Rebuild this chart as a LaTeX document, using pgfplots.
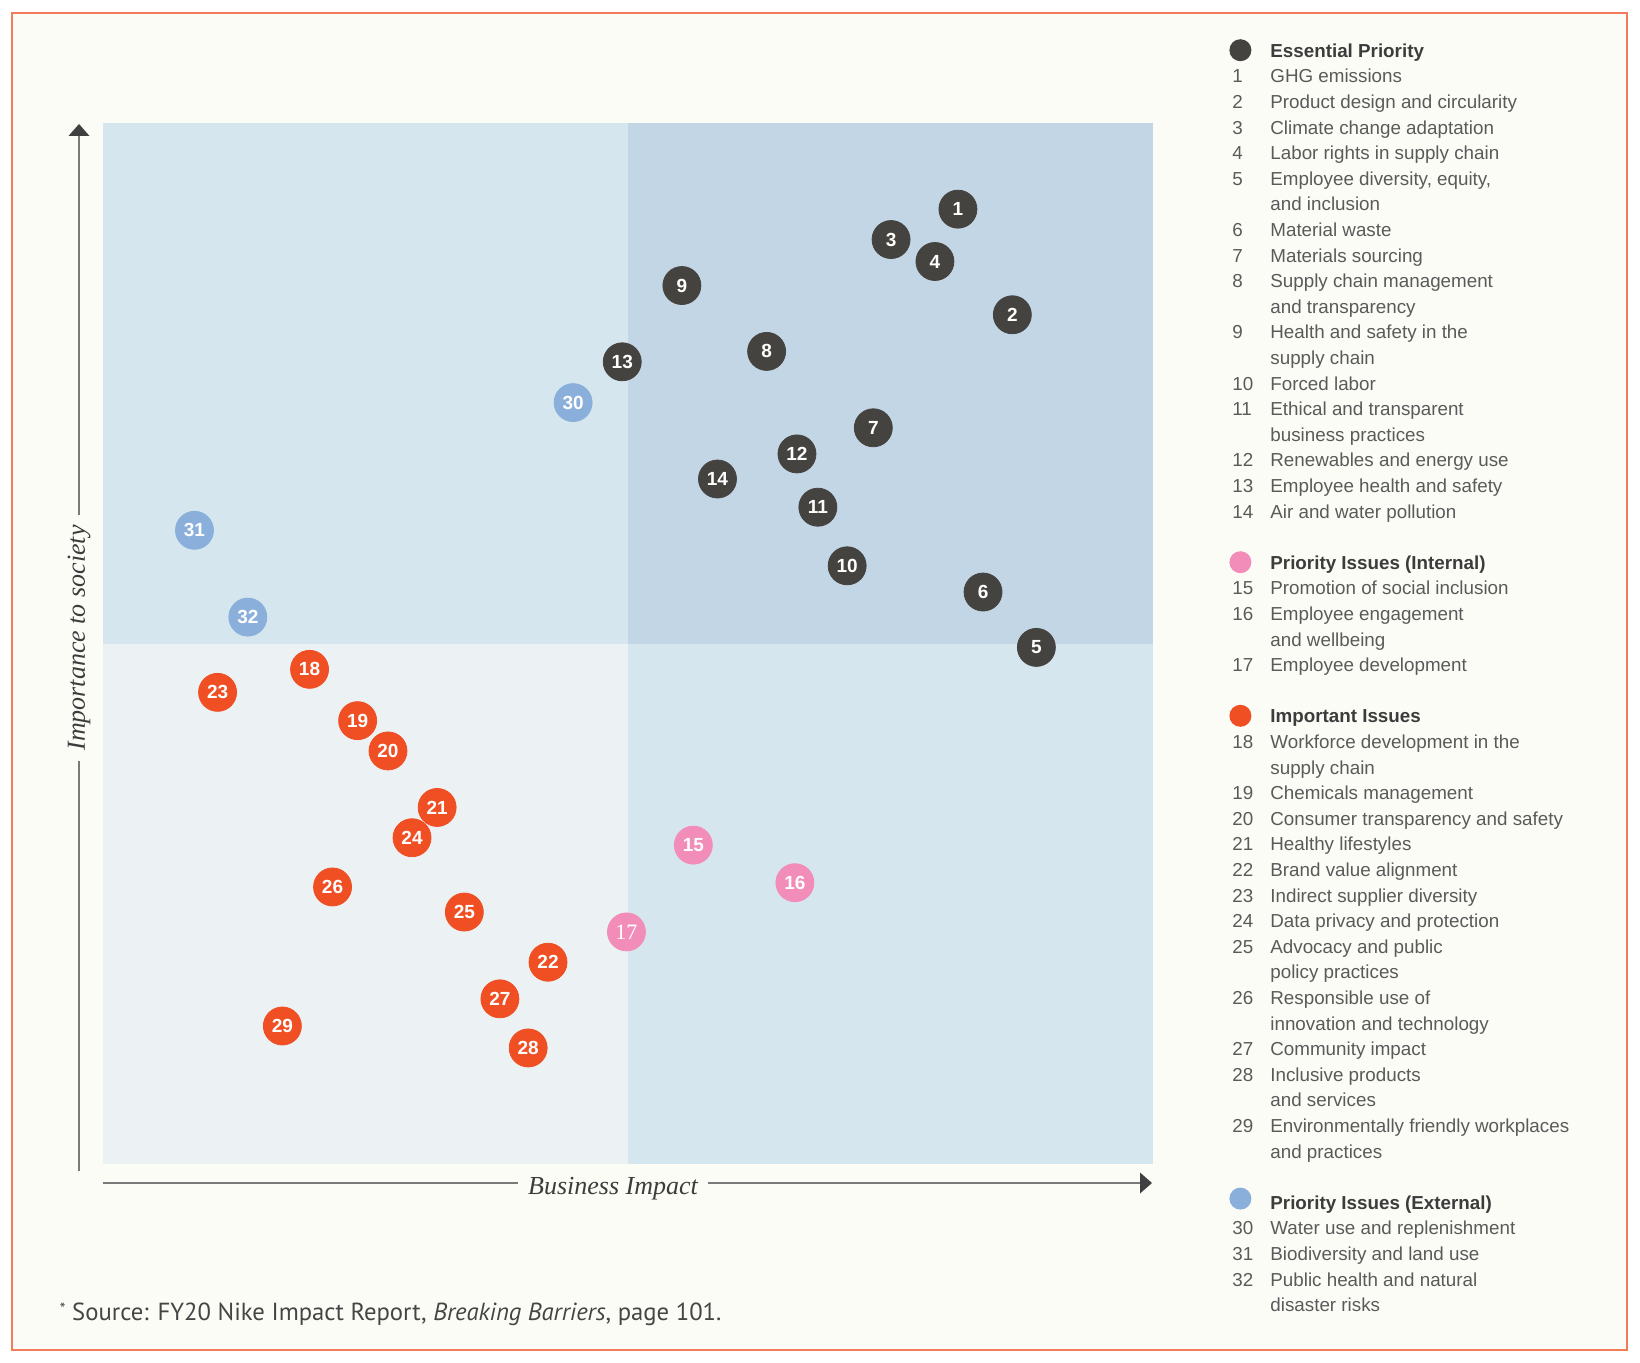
\documentclass[border=0pt]{standalone}
\usepackage{pgfplots}
\pgfplotsset{compat=1.18}
\usepackage{fontspec}
\setmainfont{Liberation Sans}
\newfontfamily\labfont{Liberation Serif}
\newfontfamily\srcfont{PT Sans}
\usetikzlibrary{arrows.meta}
\definecolor{bgc}{HTML}{FCFCF7}
\definecolor{borderc}{HTML}{F27B5C}
\definecolor{qtr}{HTML}{C3D6E6}
\definecolor{qmid}{HTML}{D6E6EF}
\definecolor{qbl}{HTML}{ECF2F4}
\definecolor{darkc}{HTML}{454340}
\definecolor{orangec}{HTML}{F04E23}
\definecolor{pinkc}{HTML}{F28DBA}
\definecolor{bluec}{HTML}{8AAFDB}
\definecolor{axisc}{HTML}{7A7A7A}
\definecolor{arrowc}{HTML}{404040}
\definecolor{legc}{HTML}{5A5A5A}
\definecolor{hdrc}{HTML}{3C3C3C}
\definecolor{srcc}{HTML}{454545}

\pgfplotstableread{
x y l
8.147 9.176 1
8.665 8.161 2
7.510 8.884 3
7.928 8.673 4
8.894 4.965 5
8.386 5.497 6
7.341 7.075 7
6.325 7.809 8
5.518 8.442 9
7.092 5.749 10
6.813 6.312 11
6.614 6.824 12
4.950 7.709 13
5.857 6.583 14
}\darkdata
\pgfplotstableread{
x y l
5.627 3.065 15
6.594 2.704 16
}\pinkdata
\pgfplotstableread{
x y l
4.990 2.231 17
}\pinkserif
\pgfplotstableread{
x y l
1.972 4.754 18
2.430 4.261 19
2.719 3.970 20
3.187 3.427 21
4.243 1.940 22
1.096 4.533 23
2.948 3.136 24
3.446 2.422 25
2.191 2.663 26
3.785 1.588 27
4.054 1.116 28
1.713 1.327 29
}\orangedata
\pgfplotstableread{
x y l
4.482 7.317 30
0.876 6.090 31
1.384 5.256 32
}\bluedata

\begin{document}
\begin{tikzpicture}[x=1pt,y=1pt]
\fill[white] (0,0) rectangle (820,681);
\fill[bgc] (6,6) rectangle (813.5,674.5);
\draw[borderc, line width=0.8pt] (6,6) rectangle (813.5,674.5);

\begin{axis}[
  at={(51.25pt,98.95pt)}, anchor=south west,
  width=525pt, height=520.35pt, scale only axis,
  xmin=0, xmax=10, ymin=0, ymax=10,
  hide axis, clip=false,
  only marks, mark=*, mark size=9.5pt,
  point meta=explicit symbolic,
  nodes near coords,
  every node near coord/.append style={anchor=center, inner sep=0pt, text=white,
     font=\bfseries\fontsize{9.5}{10}\selectfont},
]
\fill[qbl] (axis cs:0,0) rectangle (axis cs:5,5);
\fill[qmid] (axis cs:5,0) rectangle (axis cs:10,5);
\fill[qmid] (axis cs:0,5) rectangle (axis cs:5,10);
\fill[qtr] (axis cs:5,5) rectangle (axis cs:10,10);

\addplot[mark options={draw=darkc, fill=darkc}] table[meta=l] {\darkdata};
\addplot[mark options={draw=pinkc, fill=pinkc}] table[meta=l] {\pinkdata};
\addplot[mark options={draw=pinkc, fill=pinkc},
  every node near coord/.append style={font=\labfont\fontsize{11}{12}\selectfont}] table[meta=l] {\pinkserif};
\addplot[mark options={draw=orangec, fill=orangec}] table[meta=l] {\orangedata};
\addplot[mark options={draw=bluec, fill=bluec}] table[meta=l] {\bluedata};
\end{axis}

% axes
\draw[axisc, line width=0.6pt] (39.5,95.5) -- (39.5,613);
\fill[arrowc] (39.5,619) -- (34.25,613) -- (44.75,613) -- cycle;
\node[rotate=90, fill=bgc, inner xsep=5pt, inner ysep=2pt, text=hdrc,
  font=\labfont\itshape\fontsize{13}{15}\selectfont] at (39.5,362) {Importance to society};

\draw[axisc, line width=0.6pt] (51.25,89.5) -- (570,89.5);
\fill[arrowc] (576,89.5) -- (570,94.75) -- (570,84.25) -- cycle;
\node[fill=bgc, inner xsep=5pt, inner ysep=2pt, text=hdrc,
  font=\labfont\itshape\fontsize{13}{15}\selectfont] at (306.5,86.8) {Business Impact};

% source
\node[anchor=base west, inner sep=0pt, text=srcc, font=\srcfont\fontsize{12.35}{14}\selectfont]
  at (29.8,21) {{\fontsize{8}{8}\selectfont\raisebox{3pt}{*}} Source: FY20 Nike Impact Report, \textit{Breaking Barriers}, page 101.};

% legend markers
\fill[darkc] (620.2,655.9) circle (5.5);
\fill[pinkc] (620.2,399.9) circle (5.5);
\fill[orangec] (620.2,323.1) circle (5.5);
\fill[bluec] (620.2,81.7) circle (5.5);

\node[anchor=north west, inner sep=0pt, text=legc, font=\fontsize{9.4}{12.8}\selectfont] at (616,661.5) {%
\renewcommand{\arraystretch}{1}%
\begin{tabular}{@{}p{19pt}@{}l@{}}
 & \textcolor{hdrc}{\bfseries Essential Priority}\\
1 & GHG emissions\\
2 & Product design and circularity\\
3 & Climate change adaptation\\
4 & Labor rights in supply chain\\
5 & Employee diversity, equity,\\
 & and inclusion\\
6 & Material waste\\
7 & Materials sourcing\\
8 & Supply chain management\\
 & and transparency\\
9 & Health and safety in the\\
 & supply chain\\
10 & Forced labor\\
11 & Ethical and transparent\\
 & business practices\\
12 & Renewables and energy use\\
13 & Employee health and safety\\
14 & Air and water pollution\\
 & \\
 & \textcolor{hdrc}{\bfseries Priority Issues (Internal)}\\
15 & Promotion of social inclusion\\
16 & Employee engagement\\
 & and wellbeing\\
17 & Employee development\\
 & \\
 & \textcolor{hdrc}{\bfseries Important Issues}\\
18 & Workforce development in the\\
 & supply chain\\
19 & Chemicals management\\
20 & Consumer transparency and safety\\
21 & Healthy lifestyles\\
22 & Brand value alignment\\
23 & Indirect supplier diversity\\
24 & Data privacy and protection\\
25 & Advocacy and public\\
 & policy practices\\
26 & Responsible use of\\
 & innovation and technology\\
27 & Community impact\\
28 & Inclusive products\\
 & and services\\
29 & Environmentally friendly workplaces\\
 & and practices\\
 & \\
 & \textcolor{hdrc}{\bfseries Priority Issues (External)}\\
30 & Water use and replenishment\\
31 & Biodiversity and land use\\
32 & Public health and natural\\
 & disaster risks
\end{tabular}};
\end{tikzpicture}
\end{document}
